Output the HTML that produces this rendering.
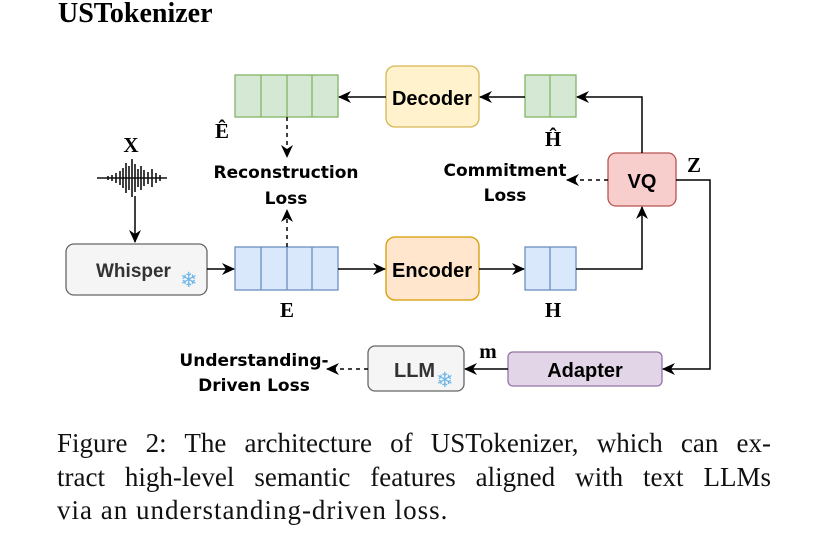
<!DOCTYPE html>
<html><head><style>
body{margin:0;width:831px;height:558px;background:#fff;overflow:hidden;position:relative}
.cap{position:absolute;left:57px;top:427px;width:714px;font:27px/33.5px "Liberation Serif",serif;color:#111}
.cap div{text-align:justify;text-align-last:justify;white-space:nowrap}
.cap div.l{text-align-last:left;letter-spacing:1px}
</style></head><body>
<svg width="831" height="558" style="position:absolute;left:0;top:0" font-family="Liberation Sans, sans-serif">
<defs>
<marker id="a" markerWidth="13" markerHeight="12" refX="12" refY="6" orient="auto" markerUnits="userSpaceOnUse"><path d="M0,0 L13,6 L0,12 L4,6z" fill="#000"/></marker>
</defs>
<text x="58" y="22" font-family="Liberation Serif,serif" font-weight="bold" font-size="28">USTokenizer</text>
<g stroke="#82b366" fill="#d5e8d4" stroke-width="1.3">
<rect x="235" y="75" width="103" height="42"/><line x1="261" y1="75" x2="261" y2="117"/><line x1="287" y1="75" x2="287" y2="117"/><line x1="312" y1="75" x2="312" y2="117"/>
<rect x="525" y="75" width="51" height="42"/><line x1="550" y1="75" x2="550" y2="117"/>
</g>
<g stroke="#6c8ebf" fill="#dae8fc" stroke-width="1.3">
<rect x="235" y="247" width="103" height="43"/><line x1="261" y1="247" x2="261" y2="290"/><line x1="287" y1="247" x2="287" y2="290"/><line x1="312" y1="247" x2="312" y2="290"/>
<rect x="525" y="247" width="51" height="43"/><line x1="550" y1="247" x2="550" y2="290"/>
</g>
<rect x="386" y="66" width="93" height="61" rx="9" fill="#fff2cc" stroke="#d6b656" stroke-width="1.3"/>
<rect x="386" y="237" width="93" height="63" rx="9" fill="#ffe6cc" stroke="#d79b00" stroke-width="1.3"/>
<rect x="608" y="153" width="68" height="53" rx="8" fill="#f8cecc" stroke="#b85450" stroke-width="1.3"/>
<rect x="66" y="244" width="141" height="51" rx="8" fill="#f5f5f5" stroke="#666" stroke-width="1.3"/>
<rect x="508" y="352" width="154" height="34" rx="5" fill="#e1d5e7" stroke="#9673a6" stroke-width="1.3"/>
<rect x="368" y="346" width="96" height="45" rx="7" fill="#f5f5f5" stroke="#666" stroke-width="1.3"/>
<g font-weight="bold" font-size="20" text-anchor="middle">
<text x="432" y="105">Decoder</text><text x="432" y="277">Encoder</text>
<text x="642" y="188">VQ</text><text x="585" y="377">Adapter</text>
</g>
<text x="96" y="277" font-weight="bold" font-size="19" fill="#333">Whisper</text>
<text x="394" y="377" font-weight="bold" font-size="20" fill="#333">LLM</text>
<text x="180" y="287" font-size="21" fill="#6cb6e8">❄</text>
<text x="436" y="387" font-size="21" fill="#6cb6e8">❄</text>
<g stroke="#000" stroke-width="1.5" fill="none">
<line x1="386" y1="97" x2="339" y2="97" marker-end="url(#a)"/>
<line x1="525" y1="97" x2="480" y2="97" marker-end="url(#a)"/>
<polyline points="642,153 642,97 577,97" marker-end="url(#a)"/>
<line x1="135" y1="196" x2="135" y2="242" marker-end="url(#a)"/>
<line x1="207" y1="269" x2="234" y2="269" marker-end="url(#a)"/>
<line x1="338" y1="269" x2="385" y2="269" marker-end="url(#a)"/>
<line x1="479" y1="269" x2="524" y2="269" marker-end="url(#a)"/>
<polyline points="576,269 642,269 642,207" marker-end="url(#a)"/>
<polyline points="676,180 710,180 710,369 663,369" marker-end="url(#a)"/>
<line x1="508" y1="369" x2="465" y2="369" marker-end="url(#a)"/>
<g stroke-dasharray="4,4">
<line x1="287" y1="117" x2="287" y2="157" marker-end="url(#a)"/>
<line x1="287" y1="247" x2="287" y2="210" marker-end="url(#a)"/>
<line x1="608" y1="180" x2="567" y2="180" marker-end="url(#a)"/>
<line x1="368" y1="369" x2="327" y2="369" marker-end="url(#a)"/>
</g>
</g>
<g stroke="#111" stroke-width="1.6">
<line x1="97" y1="178" x2="167" y2="178"/>
<path d="M108,176v4 M112,175v6 M116,173v10 M120,171v14 M123,168v20 M126,163v30 M129,166v24 M132,159v38 M135,164v28 M138,169v18 M141,166v24 M144,170v16 M148,172v12 M152,169v18 M156,173v10 M160,175v6"/>
</g>
<g font-family="Liberation Serif,serif" font-weight="bold" font-size="21" text-anchor="middle">
<text x="131" y="152">X</text>
<text x="222" y="138">Ê</text>
<text x="553" y="146">Ĥ</text>
<text x="287" y="317">E</text>
<text x="553" y="317">H</text>
<text x="694" y="172">Z</text>
<text x="488" y="358">m</text>
</g>
<g font-family="DejaVu Sans, sans-serif" font-weight="bold" font-size="17" text-anchor="middle">
<text x="286" y="178">Reconstruction</text><text x="286" y="204">Loss</text>
<text x="505" y="176">Commitment</text><text x="505" y="201">Loss</text>
<text x="254" y="366">Understanding-</text><text x="254" y="391">Driven Loss</text>
</g>
</svg>
<div class="cap"><div>Figure 2: The architecture of USTokenizer, which can ex-</div><div>tract high-level semantic features aligned with text LLMs</div><div class="l">via an understanding-driven loss.</div></div>
</body></html>
